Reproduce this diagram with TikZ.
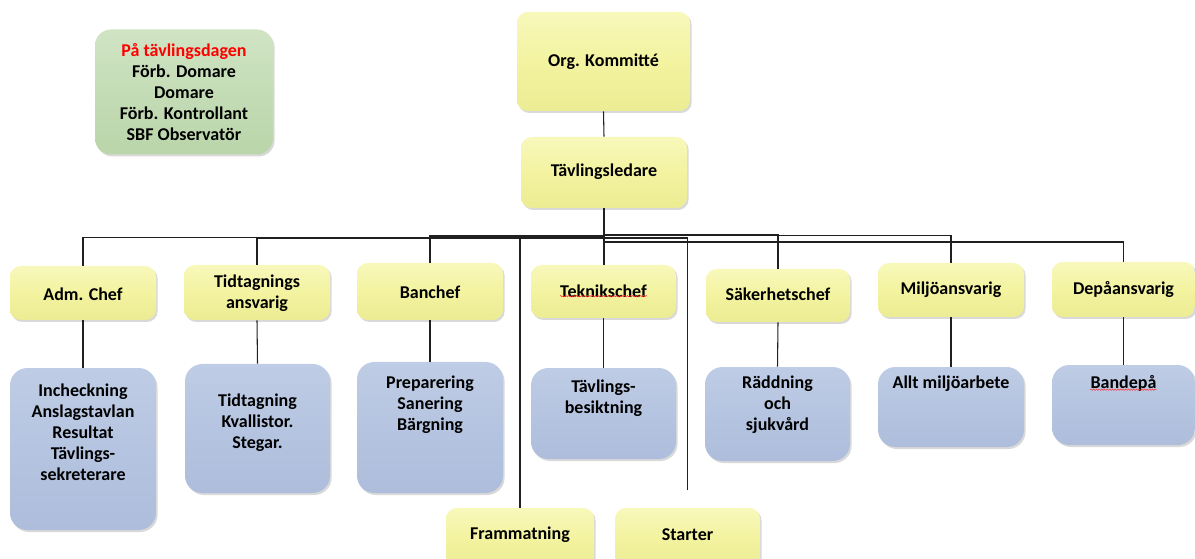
\documentclass[tikz,border=0pt]{standalone}
\usepackage{fontspec}
\setmainfont{Carlito}
\usetikzlibrary{shadows,calc,decorations.pathmorphing}
\definecolor{yel}{HTML}{F3F3A0}
\definecolor{yelL}{HTML}{F8F8BC}
\definecolor{yelD}{HTML}{ECEC94}
\definecolor{blu}{HTML}{B5C4E0}
\definecolor{bluL}{HTML}{BFCCE5}
\definecolor{bluD}{HTML}{ADBDDB}
\definecolor{grn}{HTML}{C4DCB6}
\definecolor{grnL}{HTML}{D0E4C4}
\definecolor{grnD}{HTML}{BAD5AA}
\definecolor{lin}{HTML}{202020}
\tikzset{
  basebox/.style={draw=none, inner sep=0pt, drop shadow={opacity=0.3, shadow xshift=1.2pt, shadow yshift=-1.5pt}},
  ybox/.style={basebox, rounded corners=8pt, top color=yelL, bottom color=yelD, middle color=yel},
  bbox/.style={basebox, rounded corners=13pt, top color=bluL, bottom color=bluD, middle color=blu},
  gbox/.style={basebox, rounded corners=12pt, top color=grnL, bottom color=grnD, middle color=grn},
  txt/.style={font=\bfseries\fontsize{13.5}{15.75}\selectfont, align=center, inner sep=0pt, text=black},
  conn/.style={draw=lin, line width=0.8pt},
  squig/.style={draw=red!80, line width=0.4pt, decorate, decoration={snake, amplitude=0.5pt, segment length=2pt}}
}
\newcommand{\bx}[6]{\node[#1, minimum width=#4*0.75pt, minimum height=#5*0.75pt] (#6) at (#2,#3) {};}
\begin{document}
\begin{tikzpicture}[x=0.75pt, y=-0.75pt]
\useasboundingbox (0,0) rectangle (1195,559);
% boxes
\bx{gbox}{184}{92}{178}{125}{grn}
\bx{ybox}{603.5}{61.5}{173}{99}{ok}
\bx{ybox}{604}{172.5}{166}{71}{tl}
\bx{ybox}{83}{293}{146}{54}{adm}
\bx{ybox}{257}{292.5}{146}{55}{tid}
\bx{ybox}{430}{291.5}{146}{57}{ban}
\bx{ybox}{603.5}{291.5}{145}{53}{tek}
\bx{ybox}{778}{295.5}{144}{53}{sak}
\bx{ybox}{951}{290}{146}{54}{mil}
\bx{ybox}{1123.5}{289.5}{143}{55}{dep}
\bx{bbox}{83}{449}{146}{162}{admB}
\bx{bbox}{257.5}{428.5}{145}{129}{tidB}
\bx{bbox}{430}{427.5}{146}{131}{banB}
\bx{bbox}{603.5}{413.5}{145}{91}{tekB}
\bx{bbox}{777.5}{414}{145}{94}{sakB}
\bx{bbox}{951}{407}{146}{80}{milB}
\bx{bbox}{1123.5}{405}{143}{80}{depB}
\bx{ybox}{520}{538}{148}{60}{fram}
\bx{ybox}{687.5}{538}{145}{60}{st}
% texts
\node[txt] (tgrn) at (184,92) {\textcolor{red}{På tävlingsdagen}\\Förb. Domare\\Domare\\Förb. Kontrollant\\SBF Observatör};
\node[txt] (tok) at (603.5,62) {Org. Kommitté};
\node[txt] (ttl) at (604,172) {Tävlingsledare};
\node[txt] (tadm) at (83,294) {Adm. Chef};
\node[txt] (ttid) at (257,293.5) {Tidtagnings\\ansvarig};
\node[txt] (tban) at (430,292) {Banchef};
\node[txt] (ttek) at (603.5,291) {Teknikschef};
\node[txt] (tsak) at (778,294.5) {Säkerhetschef};
\node[txt] (tmil) at (951,290) {Miljöansvarig};
\node[txt] (tdep) at (1123.5,290) {Depåansvarig};
\node[txt] (tadmB) at (83,432) {Incheckning\\Anslagstavlan\\Resultat\\Tävlings-\\sekreterare};
\node[txt] (ttidB) at (257.5,423) {Tidtagning\\Kvallistor.\\Stegar.};
\node[txt] (tbanB) at (430,405) {Preparering\\Sanering\\Bärgning};
\node[txt] (ttekB) at (603.5,398.5) {Tävlings-\\besiktning};
\node[txt] (tsakB) at (777.5,405) {Räddning\\och\\sjukvård};
\node[txt] (tmilB) at (951,384) {Allt miljöarbete};
\node[txt] (tdepB) at (1123.5,383) {Bandepå};
\node[txt] (tfram) at (520,535) {Frammatning};
\node[txt] (tst) at (687.5,535) {Starter};
% spell-check marks
\draw[squig] ($(ttek.south west)+(0,-1.5)$) -- ($(ttek.south east)+(0,-1.5)$);
\draw[squig] ($(tdepB.south west)+(0,-1.5)$) -- ($(tdepB.south east)+(0,-1.5)$);
% connectors
\coordinate (stEnd) at ($(st.north)+(0,-18)$);
\draw[conn] (ok.south) -- (tl.north);
\draw[conn] (tl.south) -- (tl.south |- tek.north);
\draw[conn] (tl.south |- 0,237.5) -| (adm.north);
\draw[conn] (tl.south |- 0,238) -| (tid.north);
\draw[conn] (tl.south |- 0,236) -| (ban.north);
\draw[conn] (tl.south |- 0,238) -| (fram.north);
\draw[conn] (tl.south |- 0,238) -| (stEnd);
\draw[conn] (tl.south |- 0,234.5) -| (sak.north);
\draw[conn] (tl.south |- 0,235.5) -| (mil.north);
\draw[conn] (tl.south |- 0,242) -| (dep.north);
\draw[conn] (adm.south) -- (admB.north);
\draw[conn] (tid.south) -- (tidB.north);
\draw[conn] (ban.south) -- (banB.north);
\draw[conn] (tek.south) -- (tekB.north);
\draw[conn] (sak.south) -- (sakB.north);
\draw[conn] (mil.south) -- (milB.north);
\draw[conn] (dep.south) -- (depB.north);
\end{tikzpicture}
\end{document}
